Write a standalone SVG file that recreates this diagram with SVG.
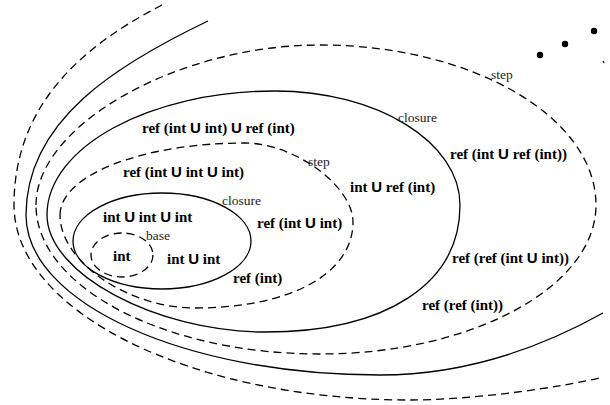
<svg xmlns="http://www.w3.org/2000/svg" width="610" height="405" viewBox="0 0 610 405">
<style>
.s{fill:none;stroke:#000;stroke-width:1.3}
.d{fill:none;stroke:#000;stroke-width:1.3;stroke-dasharray:8 5}
.t{font-family:"Liberation Serif","Times New Roman",serif;font-weight:bold;font-size:15px;fill:#000}
.u{font-family:"Liberation Sans",Arial,sans-serif;font-weight:bold}
.l{font-family:"Liberation Serif","Times New Roman",serif;font-size:13.5px;fill:#222}
</style>
<rect width="610" height="405" fill="#fff"/>
<g id="base">
<ellipse class="d" cx="122" cy="255" rx="31" ry="22"/>
<text class="l" x="146" y="240">base</text>
<text class="t" x="113" y="261">int</text>
</g>
<g id="closure1">
<ellipse class="s" cx="162" cy="241" rx="89" ry="48"/>
<text class="l" x="222" y="205">closure</text>
<text class="t" x="103" y="222">int <tspan class="u">U</tspan> int <tspan class="u">U</tspan> int</text>
<text class="t" x="167" y="264">int <tspan class="u">U</tspan> int</text>
</g>
<g id="step1">
<path class="d" d="M60,215 C60,175 143,143 245,143 C294,143 353,186 353,222 C353,274 290,308 195,308 C127.5,308 60,261.5 60,215 Z"/>
<text class="l" x="308" y="166">step</text>
<text class="t" x="123" y="177">ref (int <tspan class="u">U</tspan> int <tspan class="u">U</tspan> int)</text>
<text class="t" x="257" y="228">ref (int <tspan class="u">U</tspan> int)</text>
<text class="t" x="233" y="283">ref (int)</text>
</g>
<g id="closure2">
<path class="s" d="M47,215 C47,147 150,91 275,91 C377,91 460,142 460,205 C460,284 386,332 265,332 C156,332 47,273.5 47,215 Z"/>
<text class="l" x="398" y="122">closure</text>
<text class="t" x="142" y="133">ref (int <tspan class="u">U</tspan> int) <tspan class="u">U</tspan> ref (int)</text>
<text class="t" x="350" y="192">int <tspan class="u">U</tspan> ref (int)</text>
</g>
<g id="step2">
<path class="d" d="M36,205 C36,125 178,45 320,45 C472,45 596,117 596,205 C596,287 472,354 320,354 C164,354 36,287 36,205 Z"/>
<text class="l" x="491" y="79">step</text>
<text class="t" x="450" y="159">ref (int <tspan class="u">U</tspan> ref (int))</text>
<text class="t" x="452" y="263">ref (ref (int <tspan class="u">U</tspan> int))</text>
<text class="t" x="422" y="310">ref (ref (int))</text>
</g>
<g id="closure3">
<path class="s" d="M208,21 C118,64 26,120 26,215 C26,303 185,375 380,375 C460,375 533,352 603,313"/>
</g>
<g id="step3">
<path class="d" d="M162,5 C82,46 14,105 14,205 C14,312 192,400 410,400 C470,400 560,388 603,377"/>
</g>
<g id="more">
<circle cx="540" cy="55" r="3.2"/>
<circle cx="565" cy="44" r="3.2"/>
<circle cx="594" cy="31" r="3.2"/>
<path class="s" d="M603,61 L604,63"/>
</g>
</svg>
